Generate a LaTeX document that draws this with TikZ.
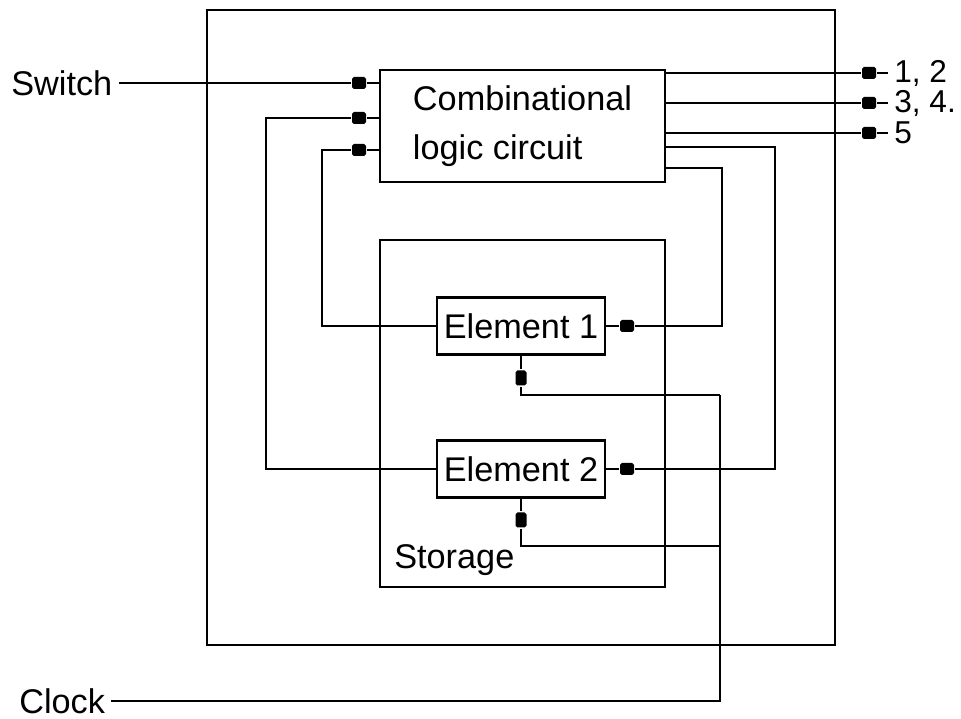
\documentclass[tikz,border=0pt]{standalone}
\usepackage{fontspec}
\setmainfont{Liberation Sans}
\usetikzlibrary{positioning}

\begin{document}
\begin{tikzpicture}[x=0.02cm, y=-0.02cm, line width=1.5pt,
  every node/.style={font=\fontsize{19.5}{28}\selectfont},
  box/.style={draw, line width=1.4pt, inner sep=0pt},
  plug/.style={fill=black, rounded corners=1pt, inner sep=0pt, minimum width=0.28cm, minimum height=0.24cm},
  vplug/.style={plug, minimum width=0.22cm, minimum height=0.3cm},
  lbl/.style={inner sep=0.1cm},
  outlbl/.style={inner sep=0pt, font=\fontsize{18}{20}\selectfont}]
  \useasboundingbox (0,0) rectangle (961,719);
  % boxes
  \node[box, minimum width=12.56cm, minimum height=12.7cm] (sys) at (521,327.5) {};
  \node[box, minimum width=5.7cm, minimum height=2.24cm, align=left] (comb) at (522.5,126) {Combinational\\logic circuit};
  \node[box, minimum width=5.7cm, minimum height=6.94cm] (stor) at (522.5,413.5) {};
  \node[box, minimum width=3.36cm, minimum height=1.14cm] (e1) at (521,326) {Element 1};
  \node[box, minimum width=3.36cm, minimum height=1.14cm] (e2) at (521,469) {Element 2};
  \node[anchor=west, inner sep=0pt] (storlbl) at (393,560) {Storage};
  % plugs
  \node[plug] (cin1) at (359,83) {};
  \node[plug] (cin2) at (359,118) {};
  \node[plug] (cin3) at (359,150) {};
  \node[plug] (out1) at (869,73) {};
  \node[plug] (out2) at (869,103) {};
  \node[plug] (out3) at (869,133) {};
  \node[plug] (e1r) at (627,326) {};
  \node[plug] (e2r) at (627,469) {};
  \node[vplug] (e1b) at (521,378) {};
  \node[vplug] (e2b) at (521,520) {};
  % outside labels
  \node[lbl, anchor=west] (sw) at (5,83) {Switch};
  \node[lbl, anchor=west] (clk) at (13,701) {Clock};
  \node[outlbl, anchor=west] (lab1) at (893,73) {1, 2};
  \node[outlbl, anchor=west] (lab2) at (893,103) {3, 4.};
  \node[outlbl, anchor=west] (lab3) at (893,133) {5};
  % turning points
  \coordinate (k1) at (722,168);
  \coordinate (k2) at (775,147);
  \coordinate (k3) at (720,395);
  \coordinate (k4) at (720,546);
  \coordinate (k5) at (266,0);
  \coordinate (k6) at (322,0);
  % inputs
  \draw (sw.east) -- (cin1.west);
  \foreach \p in {cin1,cin2,cin3} \draw[line width=1pt] (\p.east) -- (comb.west |- \p);
  \draw (cin2.west) -| (k5 |- e2.west) -- (e2.west);
  \draw (cin3.west) -| (k6 |- e1.west) -- (e1.west);
  % outputs
  \foreach \p/\q in {out1/lab1,out2/lab2,out3/lab3} {
    \draw (comb.east |- \p) -- (\p.west);
    \draw[line width=1pt] (\p.east) -- ([xshift=-0.1cm]\q.west);
  }
  % feedback into the logic
  \draw (e1.east) -- (e1r.west);
  \draw (e2.east) -- (e2r.west);
  \draw (e1r.east) -| (k1) -- (comb.east |- k1);
  \draw (e2r.east) -| (k2) -- (comb.east |- k2);
  % clock
  \draw (e1.south) -- (e1b.north);
  \draw (e2.south) -- (e2b.north);
  \draw (e1b.south) |- (k3);
  \draw (e2b.south) |- (k4);
  \draw (clk.east) -| (k3);
\end{tikzpicture}
\end{document}
